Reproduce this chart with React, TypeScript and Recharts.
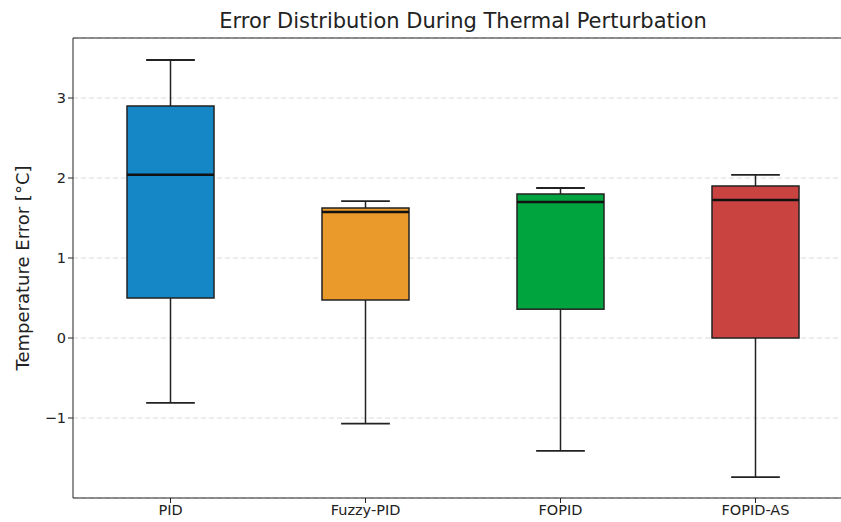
import React from 'react';
import { ComposedChart, Bar, XAxis, YAxis, CartesianGrid, ReferenceLine } from 'recharts';

const controllers = ['PID', 'Fuzzy-PID', 'FOPID', 'FOPID-AS'];
const whiskerLow = [-0.81, -1.07, -1.41, -1.74];
const quartile1 = [0.5, 0.475, 0.36, 0.0];
const medians = [2.04, 1.575, 1.7, 1.725];
const quartile3 = [2.9, 1.625, 1.8, 1.9];
const whiskerHigh = [3.475, 1.71, 1.875, 2.04];
const boxColors = ['#1586c6', '#e99a2b', '#00a43e', '#c94340'];
const yTicks = [-1, 0, 1, 2, 3];

const data = controllers.map((name, i) => ({
  name,
  min: whiskerLow[i],
  q1: quartile1[i],
  median: medians[i],
  q3: quartile3[i],
  max: whiskerHigh[i],
  color: boxColors[i],
}));

const BoxShape = (props: any) => {
  const { x, y, width, height, payload } = props;
  const { min, q1, median, q3, max, color } = payload;
  const k = height / (max - min);
  const yOf = (v: number) => y + (max - v) * k;
  const cx = x + width / 2;
  const cap = width * 0.28;
  return (
    <g>
      <line x1={cx} x2={cx} y1={yOf(max)} y2={yOf(min)} stroke="#222" strokeWidth={1.5} />
      <line x1={cx - cap} x2={cx + cap} y1={yOf(max)} y2={yOf(max)} stroke="#222" strokeWidth={1.8} />
      <line x1={cx - cap} x2={cx + cap} y1={yOf(min)} y2={yOf(min)} stroke="#222" strokeWidth={1.8} />
      <rect x={x} y={yOf(q3)} width={width} height={yOf(q1) - yOf(q3)} fill={color} stroke="#222" strokeWidth={1.5} />
      <line x1={x} x2={x + width} y1={yOf(median)} y2={yOf(median)} stroke="#111" strokeWidth={2.5} />
    </g>
  );
};

const fmt = (v: number) => (v < 0 ? `\u2212${-v}` : `${v}`);

export default function App() {
  const font = 'DejaVu Sans, sans-serif';
  return (
    <div style={{ position: 'fixed', left: 0, top: 0, width: 841, height: 522, overflow: 'hidden', background: '#fff', fontFamily: font }}>
      <div style={{ position: 'absolute', left: 73, width: 780, top: 9, textAlign: 'center', fontSize: 21, color: '#222' }}>
        Error Distribution During Thermal Perturbation
      </div>
      <div
        style={{
          position: 'absolute', left: 22, top: 268, transform: 'translate(-50%, -50%) rotate(-90deg)',
          whiteSpace: 'nowrap', fontSize: 18, color: '#222',
        }}
      >
        Temperature Error [°C]
      </div>
      <div style={{ position: 'absolute', left: 0, top: 0 }}>
        <ComposedChart width={880} height={522} data={data} margin={{ top: 38, right: 27, bottom: 0, left: 23 }}>
          <CartesianGrid vertical={false} stroke="#d9d9d9" strokeDasharray="5 3" />
          <XAxis
            dataKey="name"
            height={24}
            stroke="#222"
            tickLine={{ stroke: '#222' }}
            tickSize={5}
            tick={{ fill: '#222', fontSize: 14.5, fontFamily: font }}
          />
          <YAxis
            width={50}
            domain={[-2, 3.75]}
            ticks={yTicks}
            allowDataOverflow
            stroke="#222"
            tickSize={5}
            tickFormatter={fmt}
            tick={{ fill: '#222', fontSize: 14.5, fontFamily: font }}
          />
          <ReferenceLine y={3.75} stroke="#222" strokeWidth={1} />
          <Bar dataKey={(d: any) => [d.min, d.max]} barSize={87} shape={BoxShape} isAnimationActive={false} />
        </ComposedChart>
      </div>
    </div>
  );
}
